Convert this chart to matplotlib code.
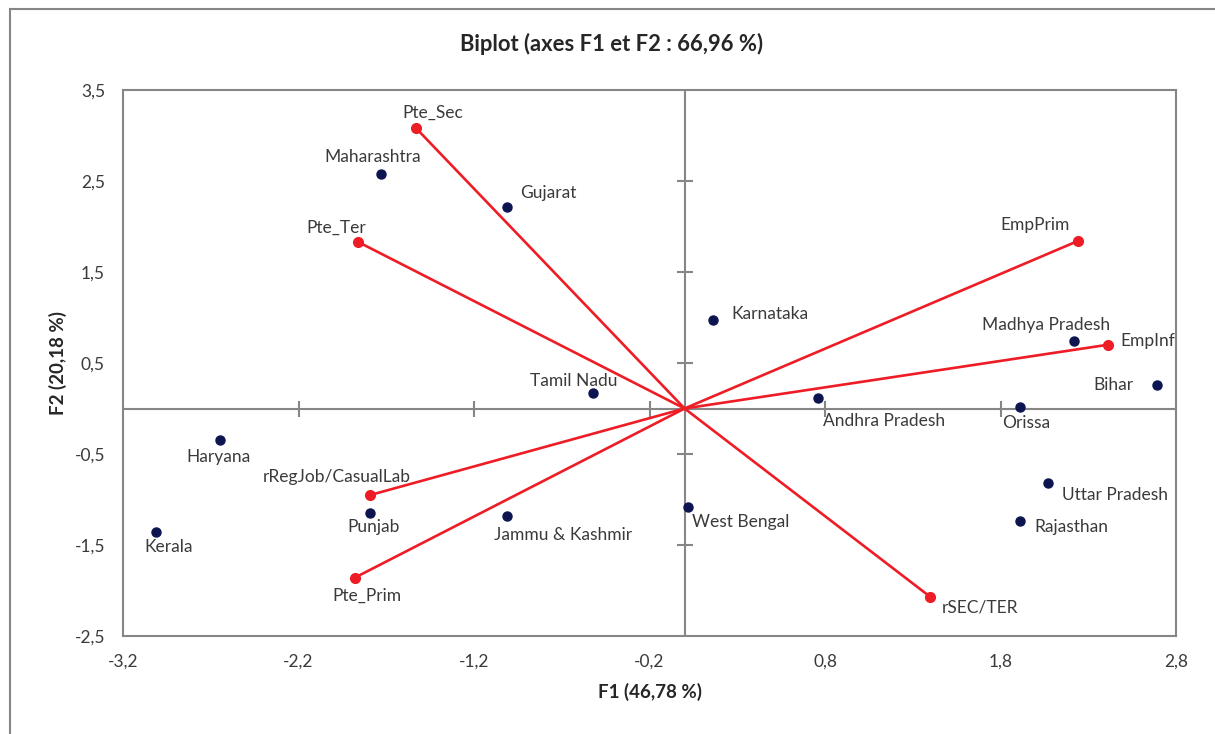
import numpy as np
import matplotlib.pyplot as plt
from matplotlib.lines import Line2D

plt.rcParams['font.family'] = ['Lato', 'DejaVu Sans']

states = ['Maharashtra', 'Gujarat', 'Karnataka', 'Tamil Nadu', 'Madhya Pradesh',
          'Bihar', 'Andhra Pradesh', 'Orissa', 'Haryana', 'Kerala', 'Punjab',
          'Jammu & Kashmir', 'West Bengal', 'Uttar Pradesh', 'Rajasthan']
state_f1 = [-1.73, -1.01, 0.16, -0.52, 2.22, 2.69, 0.76, 1.91, -2.65, -3.01,
            -1.79, -1.01, 0.02, 2.07, 1.91]
state_f2 = [2.58, 2.21, 0.97, 0.17, 0.74, 0.26, 0.12, 0.02, -0.35, -1.36,
            -1.15, -1.18, -1.08, -0.82, -1.24]

# variables (red vectors)
variables = ['Pte_Sec', 'Pte_Ter', 'EmpPrim', 'EmpInf', 'rRegJob/CasualLab',
             'Pte_Prim', 'rSEC/TER']
var_f1 = [-1.53, -1.86, 2.24, 2.41, -1.79, -1.88, 1.40]
var_f2 = [3.08, 1.83, 1.84, 0.70, -0.95, -1.86, -2.07]

xticks = [-3.2, -2.2, -1.2, -0.2, 0.8, 1.8, 2.8]
yticks = [-2.5, -1.5, -0.5, 0.5, 1.5, 2.5, 3.5]

# label offsets in pixels (dx, dy) and alignment
state_off = {
    'Maharashtra': (-8, 17, 'center'), 'Gujarat': (13, 14, 'left'),
    'Karnataka': (19, 6, 'left'), 'Tamil Nadu': (-20, 12, 'center'),
    'Madhya Pradesh': (-28, 16, 'center'), 'Bihar': (-23, 0, 'right'),
    'Andhra Pradesh': (5, -23, 'left'), 'Orissa': (-18, -16, 'left'),
    'Haryana': (-1, -17, 'center'), 'Kerala': (12, -15, 'center'),
    'Punjab': (3, -14, 'center'), 'Jammu & Kashmir': (-13, -19, 'left'),
    'West Bengal': (4, -15, 'left'), 'Uttar Pradesh': (14, -12, 'left'),
    'Rajasthan': (15, -6, 'left'),
}
var_off = {
    'Pte_Sec': (17, 15, 'center'), 'Pte_Ter': (-22, 14, 'center'),
    'EmpPrim': (-43, 16, 'center'), 'EmpInf': (13, 4, 'left'),
    'rRegJob/CasualLab': (-34, 18, 'center'), 'Pte_Prim': (12, -18, 'center'),
    'rSEC/TER': (11, -11, 'left'),
}

gray = '#868686'
txt = '#3a3a3a'
dark = '#262626'
navy = '#0c1550'
red = '#ee1c25'

fig = plt.figure(figsize=(12.15, 7.34), dpi=100)
ax = fig.add_axes([123 / 1215, 1 - 636 / 734, 1053 / 1215, 546 / 734])

# axes through the origin with cross ticks
ax.axhline(0, color=gray, lw=1.5, zorder=1)
ax.axvline(0, color=gray, lw=1.5, zorder=1)
inner_x = xticks[1:-1]
inner_y = yticks[1:-1]
ax.plot(inner_x, np.zeros(len(inner_x)), ls='none', marker='|', ms=11,
        mew=1.5, color=gray, zorder=1)
ax.plot(np.zeros(len(inner_y)), inner_y, ls='none', marker='_', ms=11,
        mew=1.5, color=gray, zorder=1)

# variable vectors
for name, x, y in zip(variables, var_f1, var_f2):
    ax.plot([0, x], [0, y], color=red, lw=1.9, zorder=2)
ax.plot(var_f1, var_f2, ls='none', marker='o', ms=7, color=red, zorder=3)
for name, x, y in zip(variables, var_f1, var_f2):
    dx, dy, ha = var_off[name]
    ax.annotate(name, (x, y), xytext=(dx, dy), textcoords='offset pixels',
                ha=ha, va='center', fontsize=12.5, color=txt)

# observations
ax.plot(state_f1, state_f2, ls='none', marker='o', ms=6.5, color=navy, zorder=3)
for name, x, y in zip(states, state_f1, state_f2):
    dx, dy, ha = state_off[name]
    ax.annotate(name, (x, y), xytext=(dx, dy), textcoords='offset pixels',
                ha=ha, va='center', fontsize=12.5, color=txt)

ax.set_xlim(-3.2, 2.8)
ax.set_ylim(-2.5, 3.5)
ax.set_xticks(xticks)
ax.set_yticks(yticks)
ax.set_xticklabels([f'{t:g}'.replace('.', ',') for t in xticks])
ax.set_yticklabels([f'{t:g}'.replace('.', ',') for t in yticks])
ax.tick_params(length=0, labelsize=12.5, labelcolor=txt)
ax.tick_params(axis='x', pad=13)
ax.tick_params(axis='y', pad=13)
for s in ax.spines.values():
    s.set_color(gray)
    s.set_linewidth(1.5)

ax.set_xlabel('F1 (46,78 %)', fontsize=13.5, fontweight='bold', color=dark)
ax.xaxis.set_label_coords(0.5, -(692 - 636) / 546)
ax.xaxis.label.set_va('center')
ax.set_ylabel('F2 (20,18 %)', fontsize=13.5, fontweight='bold', color=dark)
ax.yaxis.set_label_coords(-(123 - 58) / 1053, 0.5)
ax.yaxis.label.set_va('center')
fig.text(612 / 1215, 1 - 44 / 734, 'Biplot (axes F1 et F2 : 66,96 %)',
         ha='center', va='center', fontsize=15.8, fontweight='bold', color=dark)

# chart area border (left and top visible)
fig.add_artist(Line2D([10 / 1215, 10 / 1215], [0, 1 - 9 / 734],
                      transform=fig.transFigure, color=gray, lw=1.5))
fig.add_artist(Line2D([10 / 1215, 1], [1 - 9 / 734, 1 - 9 / 734],
                      transform=fig.transFigure, color=gray, lw=1.5))

fig.savefig('out.png', dpi=100)
